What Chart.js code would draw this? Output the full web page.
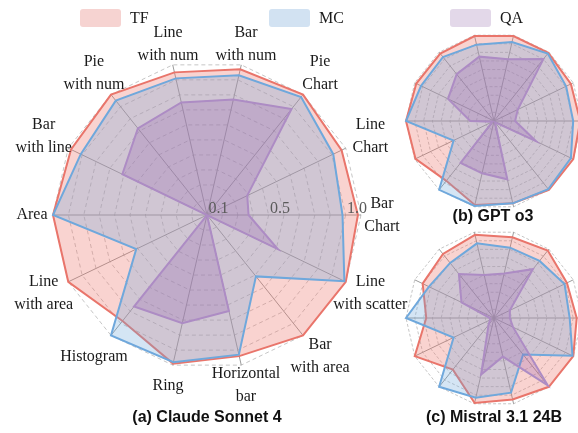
<!DOCTYPE html>
<html>
<head>
<meta charset="utf-8">
<title>Radar comparison</title>
<script src="https://cdn.jsdelivr.net/npm/chart.js@4.4.1/dist/chart.umd.min.js"></script>
<style>
    html, body { margin: 0; padding: 0; background: #fff; overflow: hidden; }
    #wrap { position: relative; width: 578px; height: 433px; }
    #wrap canvas { position: absolute; left: 0; top: 0; }
    .legend-item { position: absolute; top: 9px; height: 18px; display: flex; align-items: center;
        font: 16px 'Liberation Serif', 'Times New Roman', serif; color: #1a1a1a; }
    .legend-box { width: 41px; height: 18px; border-radius: 3px; margin-right: 9px; }
    .panel-title { position: absolute; transform: translate(-50%, -50%); white-space: nowrap;
        font: bold 16px 'Liberation Sans', Arial, sans-serif; color: #111; }
</style>
</head>
<body>
<div id="wrap">
    <canvas id="chartA" width="578" height="433"></canvas>
    <canvas id="chartB" width="578" height="433"></canvas>
    <canvas id="chartC" width="578" height="433"></canvas>

    <div class="legend-item" style="left:80px"><span class="legend-box" style="background:#f6d3d1"></span>TF</div>
    <div class="legend-item" style="left:269px"><span class="legend-box" style="background:#d2e2f2"></span>MC</div>
    <div class="legend-item" style="left:450px"><span class="legend-box" style="background:#e3d8e9"></span>QA</div>

    <div class="panel-title" style="left:207px; top:417px">(a) Claude Sonnet 4</div>
    <div class="panel-title" style="left:493px; top:216px">(b) GPT o3</div>
    <div class="panel-title" style="left:494px; top:417px">(c) Mistral 3.1 24B</div>
</div>

<script>
'use strict';

// categories, clockwise starting from the right-hand spoke
const categories = [
    ['Bar', 'Chart'], ['Line', 'with scatter'], ['Bar', 'with area'], ['Horizontal', 'bar'],
    'Ring', 'Histogram', ['Line', 'with area'], 'Area', ['Bar', 'with line'],
    ['Pie', 'with num'], ['Line', 'with num'], ['Bar', 'with num'], ['Pie', 'Chart'], ['Line', 'Chart']
];
const radialTicks = [0.1, 0.5, 1.0];
const radialTickText = ['0.1', '0.5', '1.0'];

// (a) Claude Sonnet 4
const claudeTF = [0.98, 1.00, 1.00, 0.94, 0.99, 0.88, 1.00, 1.00, 0.98, 1.00, 0.95, 0.97, 1.00, 0.97];
const claudeMC = [0.88, 0.99, 0.51, 0.93, 0.98, 1.00, 0.51, 1.00, 0.91, 0.95, 0.91, 0.93, 0.98, 0.91];
const claudeQA = [0.27, 0.51, 0.00, 0.64, 0.72, 0.76, 0.00, 0.00, 0.61, 0.72, 0.75, 0.77, 0.88, 0.29];

// (b) GPT o3
const gptTF = [0.98, 1.00, 1.00, 0.96, 0.98, 0.87, 0.99, 1.00, 0.98, 0.98, 0.99, 0.99, 0.99, 0.97];
const gptMC = [0.90, 0.97, 0.99, 0.96, 0.99, 1.00, 0.51, 1.00, 0.92, 0.93, 0.89, 0.92, 0.98, 0.91];
const gptQA = [0.24, 0.53, 0.02, 0.68, 0.61, 0.61, 0.02, 0.27, 0.58, 0.68, 0.75, 0.72, 0.90, 0.30];

// (c) Mistral 3.1 24B
const mistralTF = [0.94, 1.00, 1.00, 0.95, 0.99, 0.75, 1.00, 0.77, 0.90, 0.93, 0.97, 0.94, 0.98, 0.92];
const mistralMC = [0.86, 0.99, 0.53, 0.87, 0.93, 1.00, 0.51, 1.00, 0.82, 0.80, 0.87, 0.82, 0.83, 0.89];
const mistralQA = [0.18, 0.24, 0.98, 0.45, 0.66, 0.10, 0.05, 0.05, 0.41, 0.64, 0.50, 0.52, 0.71, 0.20];

const colors = {
    tf: '#e9756b',
    tfFill: 'rgba(236, 122, 112, 0.33)',
    mc: '#6fa8dc',
    mcFill: 'rgba(111, 168, 220, 0.30)',
    qa: '#ad8cc4',
    qaFill: 'rgba(150, 100, 175, 0.28)',
};

// draws category names and radial tick text for the big panel
const axisText = {
    id: 'axisText',
    afterDatasetsDraw(chart, args, opts) {
        if (!opts.show) return;
        const scale = chart.scales.r;
        const ctx = chart.ctx;
        ctx.save();
        ctx.font = '16px "Liberation Serif", "Times New Roman", serif';
        ctx.textAlign = 'center';
        ctx.textBaseline = 'middle';

        ctx.fillStyle = '#5a5a5a';
        radialTicks.forEach((v, i) => {
            const d = scale.getDistanceFromCenterForValue(v);
            ctx.fillText(radialTickText[i], scale.xCenter + d - 4, scale.yCenter - 6);
        });

        ctx.fillStyle = '#1a1a1a';
        categories.forEach((label, i) => {
            const lines = Array.isArray(label) ? label : [label];
            // labels sit a little further out on the diagonals and sides
            const angle = scale.getPointPosition(i, 1).angle;
            const c = Math.cos(angle);
            const gap = 17 + 9 * Math.abs(Math.sin(2 * angle)) + 4 * c * c;
            const pos = scale.getPointPosition(i, scale.drawingArea + gap);
            lines.forEach((line, k) => {
                ctx.fillText(line, pos.x, pos.y + (k - (lines.length - 1) / 2) * 23);
            });
        });
        ctx.restore();
    }
};

function makeDataset(label, data, line, fill, order) {
    return {
        label: label,
        data: data,
        borderColor: line,
        backgroundColor: fill,
        borderWidth: 2,
        pointRadius: 0,
        fill: true,
        order: order,
        clip: false,
    };
}

function renderPanel(id, tf, mc, qa, cx, cy, radius, withText) {
    const ctx = document.getElementById(id);
    new Chart(ctx, {
        type: 'radar',
        data: {
            labels: categories,
            datasets: [
                makeDataset('TF', tf, colors.tf, colors.tfFill, 2),
                makeDataset('MC', mc, colors.mc, colors.mcFill, 1),
                makeDataset('QA', qa, colors.qa, colors.qaFill, 0),
            ]
        },
        options: {
            responsive: false,
            maintainAspectRatio: false,
            devicePixelRatio: 1,
            animation: false,
            events: [],
            elements: { line: { tension: 0 } },
            scales: {
                r: {
                    min: 0,
                    max: 1,
                    startAngle: 90,
                    ticks: { display: false, stepSize: 0.1 },
                    pointLabels: { display: false },
                    grid: { color: '#b8b8b8', lineWidth: 0.8 },
                    border: { dash: withText ? [4, 3] : [3, 2] },
                    angleLines: { color: '#9a9a9a', lineWidth: 1 },
                    afterFit(scale) {
                        scale.xCenter = cx;
                        scale.yCenter = cy;
                        scale.drawingArea = radius;
                    }
                }
            },
            plugins: {
                legend: { display: false },
                tooltip: { enabled: false },
                axisText: { show: withText }
            }
        },
        plugins: [axisText]
    });
}

renderPanel('chartA', claudeTF, claudeMC, claudeQA, 207, 215, 154, true);
renderPanel('chartB', gptTF, gptMC, gptQA, 494, 121, 88, false);
renderPanel('chartC', mistralTF, mistralMC, mistralQA, 494, 318, 88, false);
</script>
</body>
</html>
